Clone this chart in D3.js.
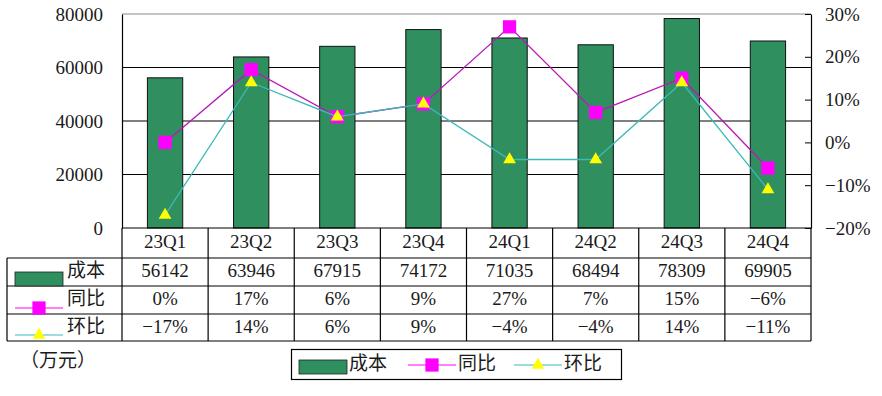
<!DOCTYPE html>
<html>
<head>
<meta charset="utf-8">
<script src="https://cdn.jsdelivr.net/npm/d3@7"></script>
<style>
  body { margin: 0; background: #fff; }
  text { font-family: "Liberation Serif", "Noto Sans CJK SC", serif; fill: #1a1a1a; }
</style>
</head>
<body>
<svg id="chart" width="882" height="396"></svg>
<script>
var quarters = ["23Q1", "23Q2", "23Q3", "23Q4", "24Q1", "24Q2", "24Q3", "24Q4"];
var cost = [56142, 63946, 67915, 74172, 71035, 68494, 78309, 69905];
var yoy = [0, 17, 6, 9, 27, 7, 15, -6];
var qoq = [-17, 14, 6, 9, -4, -4, 14, -11];
var leftTicks = [0, 20000, 40000, 60000, 80000];
var rightTicks = [-20, -10, 0, 10, 20, 30];
var seriesNames = ["成本", "同比", "环比"];

var green = "#2f8f5e", pink = "#ff00ff", pinkLine = "#b81ab8",
    yellow = "#ffff00", teal = "#3cb9b9";

// note: "top" is taken by window.top, so plot edges get their own names
var plotL = 122, plotR = 811, plotT = 14, plotB = 228;
var rowY = [228, 258, 286, 314, 341];   // table row lines
var fs = 19;

var svg = d3.select("#chart");

var x = d3.scaleBand().domain(quarters).range([plotL, plotR]);
var yL = d3.scaleLinear().domain([0, 80000]).range([plotB, plotT]);
var yR = d3.scaleLinear().domain([-20, 30]).range([plotB, plotT]);

function pct(d) { return (d < 0 ? "−" : "") + Math.abs(d) + "%"; }
function cx(d, i) { return x(quarters[i]) + x.bandwidth() / 2; }

// grid
svg.append("g").selectAll("line")
  .data(leftTicks.slice(1))
  .enter().append("line")
    .attr("x1", plotL).attr("x2", plotR)
    .attr("y1", function(d) { return yL(d); })
    .attr("y2", function(d) { return yL(d); })
    .attr("stroke", function(d) { return d == 80000 ? "#8a8a8a" : "#000"; })
    .attr("stroke-width", 1.2);

// bars
var bw = x.bandwidth() * 0.41;
svg.append("g").selectAll("rect")
  .data(cost)
  .enter().append("rect")
    .attr("x", function(d, i) { return cx(d, i) - bw / 2; })
    .attr("y", function(d) { return yL(d); })
    .attr("width", bw)
    .attr("height", function(d) { return plotB - yL(d); })
    .attr("fill", green)
    .attr("stroke", "#111")
    .attr("stroke-width", 1);

// left axis
var axL = svg.append("g")
  .attr("transform", "translate(" + plotL + ",0)")
  .call(d3.axisLeft(yL).tickValues(leftTicks).tickSize(0).tickPadding(19).tickFormat(d3.format("d")));
axL.select(".domain").attr("stroke", "#000").attr("stroke-width", 1.2);
axL.selectAll("text").attr("font-size", fs).attr("font-family", null);

// right axis
var axR = svg.append("g")
  .attr("transform", "translate(" + plotR + ",0)")
  .call(d3.axisRight(yR).tickValues(rightTicks).tickSizeInner(-6).tickSizeOuter(0).tickPadding(14).tickFormat(pct));
axR.select(".domain").attr("stroke", "#000").attr("stroke-width", 1.2);
axR.selectAll("line").attr("stroke", "#000");
axR.selectAll("text").attr("font-size", fs).attr("font-family", null);
svg.selectAll(".tick text").attr("fill", "#1a1a1a");
svg.selectAll("g[font-family]").attr("font-family", null).attr("font-size", null);

// lines + markers
var line = d3.line()
  .x(function(d, i) { return cx(d, i); })
  .y(function(d) { return yR(d); });

svg.append("path").datum(yoy)
  .attr("d", line).attr("fill", "none")
  .attr("stroke", pinkLine).attr("stroke-width", 1.3);
svg.append("g").selectAll("path")
  .data(yoy)
  .enter().append("path")
    .attr("d", d3.symbol().type(d3.symbolSquare).size(175))
    .attr("transform", function(d, i) { return "translate(" + cx(d, i) + "," + yR(d) + ")"; })
    .attr("fill", pink);

svg.append("path").datum(qoq)
  .attr("d", line).attr("fill", "none")
  .attr("stroke", teal).attr("stroke-width", 1.3);
svg.append("g").selectAll("path")
  .data(qoq)
  .enter().append("path")
    .attr("d", d3.symbol().type(d3.symbolTriangle).size(70))
    .attr("transform", function(d, i) { return "translate(" + cx(d, i) + "," + yR(d) + ")"; })
    .attr("fill", yellow);

// data table
var tbl = svg.append("g").attr("stroke", "#000").attr("stroke-width", 1.2);
tbl.append("line").attr("x1", plotL).attr("x2", plotR).attr("y1", rowY[0]).attr("y2", rowY[0]);
rowY.slice(1).forEach(function(y) {
  tbl.append("line").attr("x1", 7).attr("x2", plotR).attr("y1", y).attr("y2", y);
});
tbl.append("line").attr("x1", 7).attr("x2", 7).attr("y1", rowY[1]).attr("y2", rowY[4]);
tbl.selectAll(".col")
  .data(quarters.concat(["end"]))
  .enter().append("line")
    .attr("x1", function(d, i) { return plotL + i * x.bandwidth(); })
    .attr("x2", function(d, i) { return plotL + i * x.bandwidth(); })
    .attr("y1", rowY[0]).attr("y2", rowY[4]);

var rows = [quarters, cost, yoy.map(pct), qoq.map(pct)];
rows.forEach(function(r, k) {
  svg.append("g").selectAll("text")
    .data(r)
    .enter().append("text")
      .attr("x", function(d, i) { return x(quarters[i]) + x.bandwidth() / 2; })
      .attr("y", (rowY[k] + rowY[k + 1]) / 2 + 1)
      .attr("text-anchor", "middle")
      .attr("dominant-baseline", "middle")
      .attr("font-size", fs)
      .text(function(d) { return d; });
});

// legend key: 0 = bar, 1 = square line, 2 = triangle line
function key(g, kind, x0, yc) {
  if (kind == 0) {
    g.append("rect").attr("x", x0).attr("y", yc - 7).attr("width", 48).attr("height", 14)
      .attr("fill", green).attr("stroke", "#222").attr("stroke-width", 0.8);
    return;
  }
  g.append("line").attr("x1", x0).attr("x2", x0 + 48).attr("y1", yc).attr("y2", yc)
    .attr("stroke", kind == 1 ? pink : teal).attr("stroke-width", 1.2);
  g.append("path")
    .attr("d", d3.symbol().type(kind == 1 ? d3.symbolSquare : d3.symbolTriangle).size(kind == 1 ? 175 : 70))
    .attr("transform", "translate(" + (x0 + 24) + "," + yc + ")")
    .attr("fill", kind == 1 ? pink : yellow);
}

var side = svg.append("g");
[279, 308, 335].forEach(function(yc, k) {
  key(side, k, 15, yc);
  side.append("text")
    .attr("x", 67).attr("y", (rowY[k + 1] + rowY[k + 2]) / 2 + 1)
    .attr("dominant-baseline", "middle")
    .attr("font-size", fs)
    .text(seriesNames[k]);
});

svg.append("text")
  .attr("x", 20).attr("y", 363)
  .attr("dominant-baseline", "middle")
  .attr("font-size", fs)
  .text("（万元）");

// bottom legend
var lg = svg.append("g");
lg.append("rect").attr("x", 291.5).attr("y", 349.5).attr("width", 330).attr("height", 30)
  .attr("fill", "#fff").attr("stroke", "#000").attr("stroke-width", 1.2);
var items = [299, 408, 514];
items.forEach(function(x0, k) {
  key(lg, k, x0, k == 0 ? 367 : 365);
  lg.append("text")
    .attr("x", x0 + 50).attr("y", 366)
    .attr("dominant-baseline", "middle")
    .attr("font-size", fs)
    .text(seriesNames[k]);
});
</script>
</body>
</html>
